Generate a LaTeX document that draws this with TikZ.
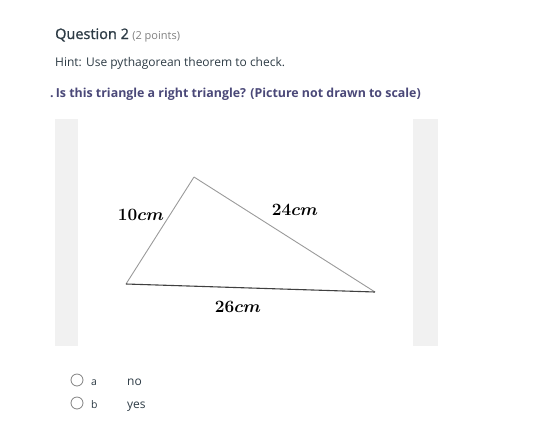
\documentclass[tikz,border=0pt]{standalone}
\usepackage{fontspec}
\setmainfont{Open Sans}
\newfontfamily\headfont[FakeBold=1.2]{Open Sans}
\usetikzlibrary{positioning,calc}
\definecolor{panelgray}{HTML}{F1F1F1}
\definecolor{linegray}{HTML}{9A9A9A}
\definecolor{asktext}{HTML}{4A4878}
\definecolor{maintext}{HTML}{2D3B45}
\tikzstyle{side} = [linegray, line width=0.9pt]
\tikzstyle{len} = [inner sep=0pt, font=\fontsize{19}{22}\selectfont\boldmath]
\tikzstyle{radio} = [draw=gray, circle, minimum width=12pt, inner sep=0pt, line width=0.8pt]
\tikzstyle{plain} = [inner sep=0pt, anchor=base west, text=maintext, font=\fontsize{12}{14}\selectfont]

\begin{document}
\begin{tikzpicture}[x=1pt,y=-1pt]
 \useasboundingbox (0,0) rectangle (557,429);

 \node [plain, font=\fontsize{14.5}{16}\headfont] (qtitle) at (55,39) {Question 2};
 \node [plain, right=3pt of qtitle.base east, anchor=base west, text=gray, font=\fontsize{11}{13}\selectfont] (qpoints) {(2 points)};
 \node [plain] (hint) at (55,66) {Hint: Use pythagorean theorem to check.};
 \node [plain, text=asktext, font=\fontsize{12.4}{14}\selectfont\bfseries] (ask) at (50,97) {.\,Is this triangle a right triangle? (Picture not drawn to scale)};

 \fill [panelgray] (55,119) rectangle (78,346);
 \fill [panelgray] (413,119) rectangle (438,346);

 \coordinate (top) at (194,177);
 \coordinate (left) at (126,284);
 \coordinate (right) at (375,292);
 \draw [side] (left) -- (top);
 \draw [side] (top) -- (right);
 \draw [side, black!75, line width=1.1pt] (left) -- (right);

 \node [len] (ten) at (141,215) {$10cm$};
 \node [len] (twentyfour) at (295,210) {$24cm$};
 \node [len] (twentysix) at (238,307) {$26cm$};

 \node [radio] (ra) at (77,380) {};
 \node [radio] (rb) at (77,403) {};
 \node [plain, font=\fontsize{10.5}{12}\selectfont] (la) at (91,385) {a};
 \node [plain, font=\fontsize{10.5}{12}\selectfont] (lb) at (91,408) {b};
 \node [plain] (ano) at (127,385) {no};
 \node [plain] (byes) at (127,408) {yes};
\end{tikzpicture}
\end{document}
